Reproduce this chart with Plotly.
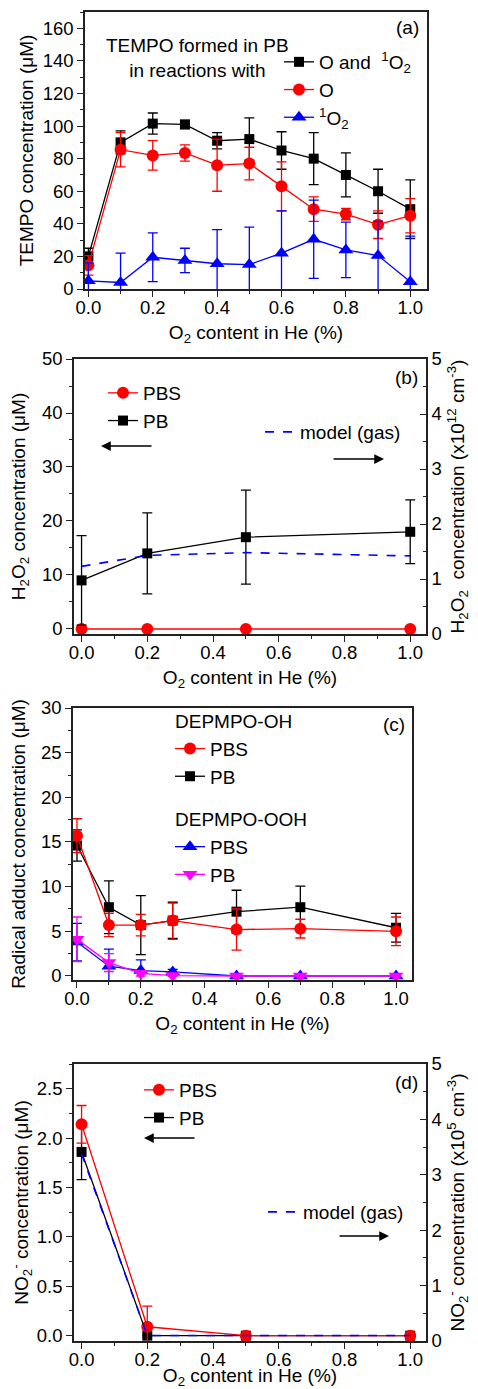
import plotly.graph_objects as go

# The page body has an 8px default margin; the figure is sized to fill the
# remaining viewport so the picture lines up with the 478x1389 reference.
W, H = 478, 1389
OFF = 8
FW, FH = W - OFF, H - OFF
FONT = "Arial, Liberation Sans, sans-serif"

# ---------------- data ----------------
# Panel (a)
xa = [0.0, 0.1, 0.2, 0.3, 0.4, 0.5, 0.6, 0.7, 0.8, 0.9, 1.0]
tempo_both = [20, 90, 101.5, 101, 91, 92, 85, 80, 70, 60, 49]
tempo_both_err = [5, 7, 6.5, 2.5, 5, 13, 11.5, 16, 13.5, 13.5, 18]
tempo_O = [14.5, 85.5, 82, 83.5, 76, 77, 63, 49, 46, 39.5, 45]
tempo_O_err = [6, 10.5, 9, 5, 16, 10, 15, 7.5, 3.5, 8.5, 10.5]
tempo_1O2 = [5, 4, 19.5, 17.5, 15.5, 15, 22, 30.5, 24, 20.5, 4.5]
tempo_1O2_err = [11, 18, 15, 7.5, 21, 23, 26, 24, 17, 21, 28]

# Panel (b)
xb = [0.0, 0.2, 0.5, 1.0]
h2o2_pbs = [0, 0, 0, 0]
h2o2_pb = [9, 14, 17, 18]
h2o2_pb_err = [8.3, 7.5, 8.7, 5.9]
h2o2_model = [1.23, 1.43, 1.48, 1.42]

# Panel (c)
xc = [0.0, 0.1, 0.2, 0.3, 0.5, 0.7, 1.0]
oh_pbs = [15.7, 5.7, 5.7, 6.2, 5.2, 5.3, 5.0]
oh_pbs_err = [1.9, 1.3, 1.2, 2.1, 2.3, 1.05, 1.6]
oh_pb = [14.6, 7.7, 5.7, 6.2, 7.2, 7.7, 5.4]
oh_pb_err = [1.75, 2.95, 3.3, 2.0, 2.4, 2.35, 1.6]
ooh_pbs = [3.8, 1.1, 0.6, 0.45, 0.0, 0.0, 0.0]
ooh_pbs_err = [2.1, 1.9, 1.2, 0.3, 0.1, 0.1, 0.1]
ooh_pb = [4.1, 1.5, 0.3, 0.05, 0.0, 0.0, 0.0]
ooh_pb_err = [2.5, 1.0, 0.3, 0.1, 0.1, 0.1, 0.1]

# Panel (d)
xd = [0.0, 0.2, 0.5, 1.0]
no2_pbs = [2.14, 0.09, 0.0, 0.0]
no2_pbs_err = [0.19, 0.21, 0.0, 0.0]
no2_pb = [1.86, 0.0, 0.0, 0.0]
no2_pb_err = [0.28, 0.0, 0.0, 0.0]
no2_model = [3.38, 0.1, 0.1, 0.1]

xtitle = "O<sub>2</sub> content in He (%)"

# ---------------- helpers ----------------
def px(x):
    return (x - OFF) / FW


def py(y):
    return 1 - (y - OFF) / FH


BLACK, RED, BLUE, MAG = "#000000", "#ff0000", "#0000ff", "#ff00ff"


def err(vals, color):
    return dict(type="data", array=vals, visible=True, color=color,
                thickness=1.3, width=5)


fig = go.Figure()


def add(x, y, color, symbol, name, xaxis, yaxis, legend, e=None, size=11,
        rank=None, group=None, gtitle=None, showleg=True):
    kw = {}
    if rank is not None:
        kw["legendrank"] = rank
    if group is not None:
        kw["legendgroup"] = group
    if gtitle is not None:
        kw["legendgrouptitle"] = dict(text=gtitle, font=dict(size=19, color="black"))
    fig.add_trace(go.Scatter(
        x=x, y=y, mode="lines+markers", name=name,
        line=dict(color=color, width=1.3),
        marker=dict(color=color, symbol=symbol, size=size),
        error_y=err(e, color) if e is not None else None,
        xaxis=xaxis, yaxis=yaxis, legend=legend, showlegend=showleg,
        cliponaxis=True, **kw))


# (a)
add(xa, tempo_both, BLACK, "square", "O and  <sup>1</sup>O<sub>2</sub>", "x", "y", "legend", tempo_both_err, 10)
add(xa, tempo_O, RED, "circle", "O", "x", "y", "legend", tempo_O_err, 12)
add(xa, tempo_1O2, BLUE, "triangle-up", "<sup>1</sup>O<sub>2</sub>", "x", "y", "legend", tempo_1O2_err, 13)

# (b)
add(xb, h2o2_pbs, RED, "circle", "PBS", "x2", "y2", "legend2", None, 12, rank=1)
add(xb, h2o2_pb, BLACK, "square", "PB", "x2", "y2", "legend2", h2o2_pb_err, 10, rank=2)
fig.add_trace(go.Scatter(x=xb, y=h2o2_model, mode="lines", name="model (gas)",
                         line=dict(color=BLUE, width=1.6, dash="dash"),
                         xaxis="x2", yaxis="y3", legend="legend5"))

# (c)
add(xc, oh_pb, BLACK, "square", "PB", "x3", "y4", "legend3", oh_pb_err, 10, rank=2, group="oh")
add(xc, oh_pbs, RED, "circle", "PBS", "x3", "y4", "legend3", oh_pbs_err, 12, rank=1, group="oh", gtitle="DEPMPO-OH")
add(xc, ooh_pbs, BLUE, "triangle-up", "PBS", "x3", "y4", "legend3", ooh_pbs_err, 13, rank=3, group="ooh", gtitle="DEPMPO-OOH")
add(xc, ooh_pb, MAG, "triangle-down", "PB", "x3", "y4", "legend3", ooh_pb_err, 13, rank=4, group="ooh")

# (d)
fig.add_trace(go.Scatter(x=xd, y=no2_model, mode="lines", name="model (gas)",
                         line=dict(color=BLUE, width=1.6, dash="dash"),
                         xaxis="x4", yaxis="y6", legend="legend6"))
add(xd, no2_pb, BLACK, "square", "PB", "x4", "y5", "legend4", no2_pb_err, 10, rank=2)
add(xd, no2_pbs, RED, "circle", "PBS", "x4", "y5", "legend4", no2_pbs_err, 12, rank=1)

# ---------------- axes ----------------
tickfont = dict(family=FONT, size=18.5, color="black")
titlefont = dict(family=FONT, size=19, color="black")
LINEC = "#222222"


def xax(l, r, rng, anchor):
    return dict(domain=[px(l), px(r)], range=rng, anchor=anchor, automargin=False,
                showline=True, linecolor=LINEC, linewidth=1.5, mirror=True,
                ticks="outside", ticklen=6, tickwidth=1.2, tickcolor=LINEC,
                dtick=0.2, tick0=0, tickformat=".1f", tickfont=tickfont,
                ticklabelstandoff=-5,
                minor=dict(dtick=0.1, ticklen=3.5, tickwidth=1, tickcolor=LINEC, ticks="outside"),
                showgrid=False, zeroline=False,
                title=dict(text=xtitle, font=titlefont, standoff=9))


def yax(t, b, rng, anchor, dtick, mdtick, title, fmt=None, standoff=6):
    d = dict(domain=[py(b), py(t)], range=rng, anchor=anchor, automargin=False,
             showline=True, linecolor=LINEC, linewidth=1.5, mirror=True,
             ticks="outside", ticklen=6, tickwidth=1.2, tickcolor=LINEC,
             dtick=dtick, tick0=0, tickfont=tickfont,
             minor=dict(dtick=mdtick, ticklen=3.5, tickwidth=1, tickcolor=LINEC, ticks="outside"),
             showgrid=False, zeroline=False,
             title=dict(text=title, font=titlefont, standoff=standoff))
    if fmt:
        d["tickformat"] = fmt
    return d


def yright(over, anchor, rng, title):
    return dict(overlaying=over, side="right", range=rng, anchor=anchor, automargin=False,
                showline=True, linecolor=LINEC, linewidth=1.5,
                ticks="inside", ticklen=6, tickwidth=1.2, tickcolor=LINEC,
                dtick=1, tick0=0, tickfont=tickfont,
                minor=dict(dtick=0.5, ticklen=3.5, tickwidth=1, tickcolor=LINEC, ticks="inside"),
                showgrid=False, zeroline=False,
                title=dict(text=title, font=titlefont, standoff=10))


layout = dict(
    width=FW, height=FH, margin=dict(l=0, r=0, t=0, b=0, autoexpand=False),
    paper_bgcolor="white", plot_bgcolor="white",
    font=dict(family=FONT, size=19, color="black"),
    xaxis=xax(85, 427, [-0.0105, 1.052], "y"),
    yaxis=yax(12, 289, [0, 170], "x", 20, 10, "TEMPO concentration (μM)", standoff=4),
    xaxis2=xax(74, 426, [-0.023, 1.048], "y2"),
    yaxis2=yax(359, 634, [-0.93, 50], "x2", 10, 5, "H<sub>2</sub>O<sub>2</sub> concentration (μM)", standoff=11),
    yaxis3=yright("y2", "x2", [0, 5], "H<sub>2</sub>O<sub>2</sub>  concentration (x10<sup>12</sup> cm<sup>-3</sup>)"),
    xaxis3=xax(73, 412, [-0.0125, 1.05], "y4"),
    yaxis4=yax(708, 980, [-0.45, 30], "x3", 5, 2.5, "Radical adduct concentration (μM)", standoff=10),
    xaxis4=xax(74, 426, [-0.023, 1.048], "y5"),
    yaxis5=yax(1064, 1341, [-0.054, 2.75], "x4", 0.5, 0.25, "NO<sub>2</sub><sup>-</sup> concentration (μM)", ".1f", standoff=13),
    yaxis6=yright("y5", "x4", [0, 5], "NO<sub>2</sub><sup>-</sup> concentration (x10<sup>5</sup> cm<sup>-3</sup>)"),
)

leg_common = dict(bgcolor="rgba(0,0,0,0)", borderwidth=0,
                  font=dict(family=FONT, size=19, color="black"),
                  xanchor="left", yanchor="top", tracegroupgap=0)
layout["legend"] = dict(leg_common, x=px(279), y=py(43))
layout["legend2"] = dict(leg_common, x=px(103), y=py(374))
layout["legend5"] = dict(leg_common, x=px(260), y=py(413))
layout["legend3"] = dict(leg_common, x=px(170), y=py(702), traceorder="grouped", tracegroupgap=15)
layout["legend4"] = dict(leg_common, x=px(139), y=py(1071))
layout["legend6"] = dict(leg_common, x=px(263), y=py(1193))

fig.update_layout(**layout)

# ---------------- annotations ----------------
ann = []


def label(text, x, y):
    ann.append(dict(text=text, x=px(x), y=py(y), xref="paper", yref="paper",
                    showarrow=False, xanchor="center", yanchor="middle",
                    font=dict(family=FONT, size=19, color="black")))


def arrow(x_head, x_tail, y):
    ann.append(dict(text="", x=px(x_head), y=py(y), xref="paper", yref="paper",
                    ax=x_tail - x_head, ay=0, axref="pixel", ayref="pixel",
                    showarrow=True, arrowhead=2, arrowsize=1.3, arrowwidth=1.5,
                    arrowcolor="black"))


label("(a)", 407, 27)
label("(b)", 406, 378)
label("(c)", 394, 724)
label("(d)", 406, 1082)
ann.append(dict(text="TEMPO formed in PB<br>in reactions with", x=px(197), y=py(58),
                xref="paper", yref="paper", showarrow=False, xanchor="center",
                yanchor="middle", align="center",
                font=dict(family=FONT, size=19, color="black")))
arrow(101, 153, 446)
arrow(384, 332, 459)
arrow(144, 196, 1138)
arrow(389, 338, 1236)

fig.update_layout(annotations=ann)

fig.write_html("out.html")
